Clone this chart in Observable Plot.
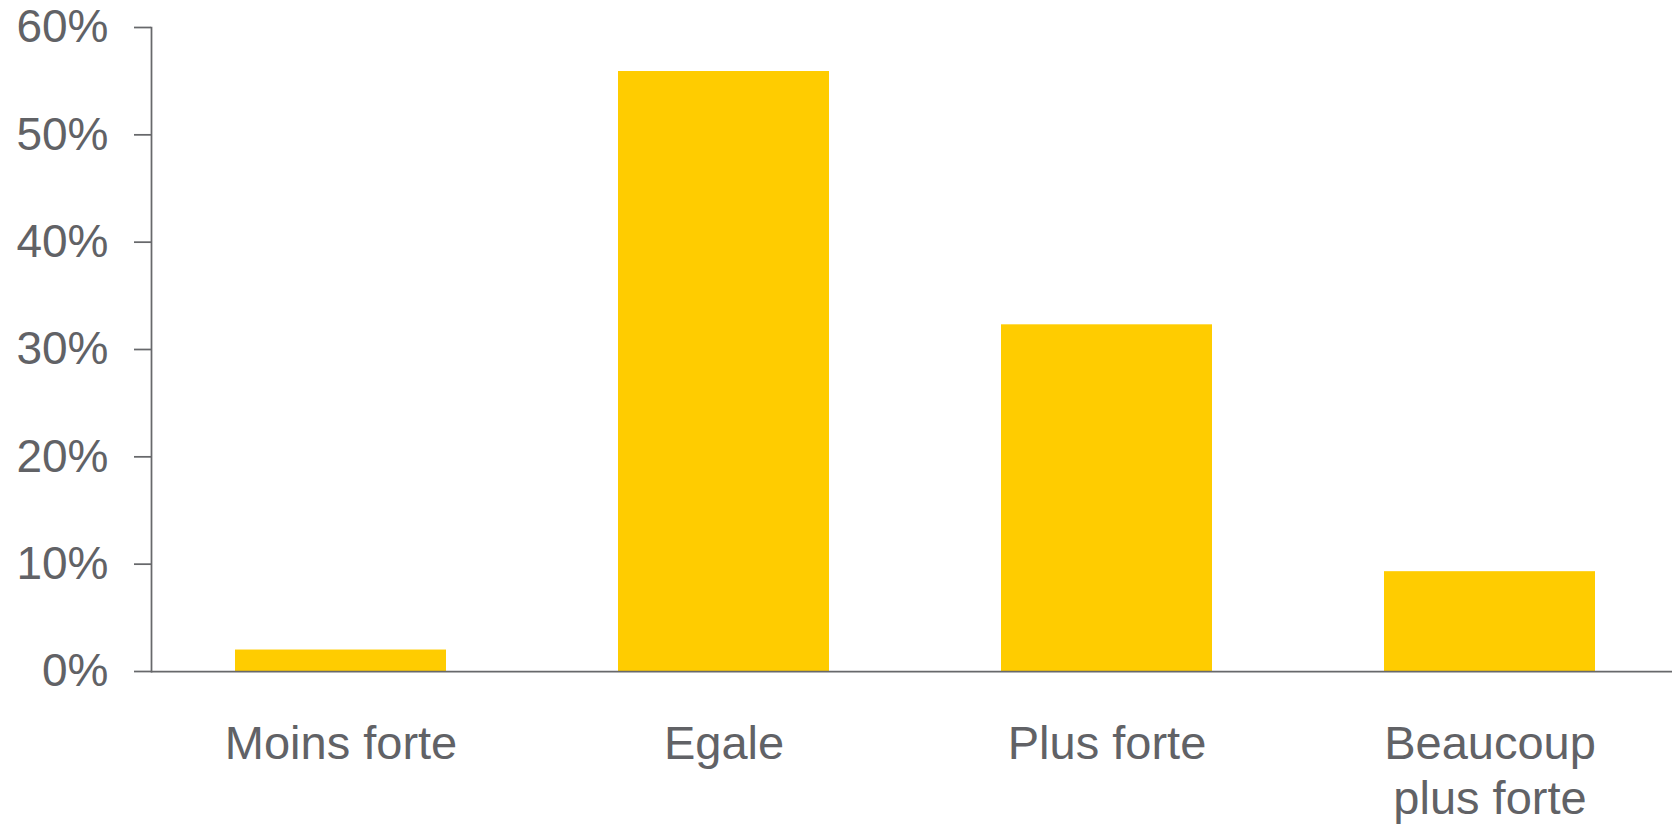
<!DOCTYPE html>
<html>
<head>
<meta charset="utf-8">
<script src="https://cdn.jsdelivr.net/npm/d3@7"></script>
<script src="https://cdn.jsdelivr.net/npm/@observablehq/plot@0.6"></script>
<style>
  html, body { margin: 0; padding: 0; background: #fff; }
  #chart svg { display: block; }
</style>
</head>
<body>
<div id="chart"></div>
<script>
const categories = ["Moins forte", "Egale", "Plus forte", "Beaucoup plus forte"];
const tickLabels = ["Moins forte", "Egale", "Plus forte", "Beaucoup\nplus forte"];
const values = [0.02, 0.559, 0.323, 0.093];
const yTicks = [0, 0.1, 0.2, 0.3, 0.4, 0.5, 0.6];

const data = categories.map((c, i) => ({category: c, value: values[i]}));
const textColor = "#616266";
const lineColor = "#67686b";

const chart = Plot.plot({
  width: 1672,
  height: 826,
  marginLeft: 151,
  marginRight: 0,
  marginTop: 27,
  marginBottom: 155,
  style: {fontFamily: "'Liberation Sans', Arial, sans-serif", fontSize: "46px", color: textColor, background: "#fff"},
  x: {domain: categories, range: [149, 1681], paddingInner: 0.45, paddingOuter: 0.225},
  y: {domain: [0, 0.6], ticks: yTicks},
  marks: [
    Plot.barY(data, {x: "category", y: "value", fill: "#FFCC00"}),
    Plot.axisY({ticks: yTicks, tickFormat: d3.format(".0%"), tickSize: 17, tickPadding: 26, stroke: lineColor, strokeWidth: 1.75, strokeOpacity: 1, fill: textColor, fontSize: 46, label: null}),
    Plot.axisX({tickSize: 0, tickPadding: 49, tickFormat: (d) => tickLabels[categories.indexOf(d)], fill: textColor, fontSize: 47, lineHeight: 1.16, label: null}),
    Plot.frame({anchor: "left", stroke: lineColor, strokeWidth: 1.75}),
    Plot.ruleY([0], {stroke: lineColor, strokeWidth: 1.75})
  ]
});
document.getElementById("chart").appendChild(chart);
</script>
</body>
</html>
